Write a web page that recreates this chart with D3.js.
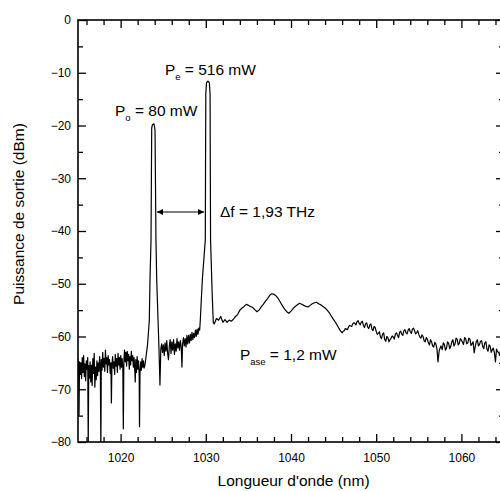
<!DOCTYPE html>
<html>
<head>
<meta charset="utf-8">
<script src="https://cdn.jsdelivr.net/npm/d3@7"></script>
<style>
  body { margin: 0; background: #fff; }
  text { font-family: Arial, "Liberation Sans", Helvetica, sans-serif; fill: #000; }
  .tick line { stroke: #000; stroke-width: 1.3px; }
</style>
</head>
<body>
<div id="chart"></div>
<script>
// spectrum: [wavelength (nm), output power (dBm)]
const spectrum = [
  [1015.00,-64.2],[1015.08,-66.5],[1015.12,-75],[1015.18,-64.8],[1015.26,-67.2],[1015.34,-65.0],[1015.42,-68.0],
  [1015.50,-64.0],[1015.58,-66.8],[1015.66,-63.6],[1015.74,-67.6],[1015.82,-65.2],[1015.90,-68.4],[1015.98,-64.6],
  [1016.06,-66.2],[1016.14,-64.0],[1016.20,-81],[1016.26,-65.5],[1016.34,-67.9],[1016.42,-64.8],[1016.50,-68.6],
  [1016.58,-65.4],[1016.66,-69.3],[1016.74,-64.2],[1016.82,-67.0],[1016.90,-63.2],[1016.98,-69.6],[1017.06,-65.8],
  [1017.14,-68.2],[1017.22,-64.6],[1017.30,-67.4],[1017.38,-65.0],[1017.46,-66.6],[1017.54,-63.8],[1017.62,-65.6],
  [1017.68,-81],[1017.74,-64.4],[1017.82,-66.4],[1017.90,-63.0],[1017.98,-65.8],[1018.06,-64.2],[1018.14,-66.6],
  [1018.22,-62.6],[1018.30,-65.2],[1018.38,-64.0],[1018.46,-66.8],[1018.54,-63.6],[1018.62,-65.4],[1018.70,-64.4],
  [1018.78,-67.0],[1018.86,-65.0],[1018.92,-72.6],[1018.98,-65.6],[1019.06,-63.8],[1019.14,-66.0],[1019.22,-64.8],
  [1019.30,-67.2],[1019.38,-63.4],[1019.46,-65.6],[1019.54,-64.2],[1019.62,-66.8],[1019.70,-63.2],[1019.78,-65.4],
  [1019.86,-64.0],[1019.94,-66.2],[1020.02,-63.6],[1020.10,-65.8],[1020.18,-64.2],[1020.26,-66.0],[1020.32,-77.5],
  [1020.38,-65.0],[1020.46,-62.6],[1020.54,-64.8],[1020.62,-63.0],[1020.70,-65.6],[1020.78,-62.8],[1020.86,-64.6],
  [1020.94,-63.4],[1021.02,-66.2],[1021.10,-63.8],[1021.18,-65.4],[1021.26,-62.8],[1021.34,-64.6],[1021.42,-63.6],
  [1021.50,-65.8],[1021.58,-64.0],[1021.66,-66.4],[1021.72,-68.6],[1021.78,-64.4],[1021.86,-66.8],[1021.94,-63.8],
  [1022.02,-66.2],[1022.10,-64.6],[1022.18,-67.0],[1022.22,-77.1],[1022.28,-66.8],[1022.36,-64.8],[1022.44,-66.4],
  [1022.52,-64.2],[1022.60,-65.8],[1022.68,-64.6],[1022.76,-66.0],[1022.86,-65.4],
  // first peak (Po)
  [1023.16,-61.6],[1023.37,-56.9],[1023.45,-49.3],[1023.57,-41.7],[1023.65,-20.5],[1023.74,-19.8],[1023.92,-19.7],
  [1024.04,-20.9],[1024.15,-41.7],[1024.24,-49.3],[1024.51,-62.6],[1024.62,-69.2],
  [1024.72,-62.4],[1024.82,-61.4],[1024.92,-63.0],[1025.02,-61.6],[1025.12,-63.6],[1025.22,-61.2],[1025.32,-62.8],
  [1025.42,-60.8],[1025.52,-63.2],[1025.62,-64.4],[1025.72,-61.8],[1025.82,-60.6],[1025.92,-63.2],[1026.02,-61.0],
  [1026.12,-62.6],[1026.22,-60.6],[1026.32,-63.4],[1026.42,-61.4],[1026.52,-62.8],[1026.62,-60.4],[1026.72,-62.2],
  [1026.82,-61.0],[1026.92,-62.6],[1027.02,-60.8],[1027.12,-62.0],[1027.20,-65.8],[1027.28,-61.4],[1027.38,-60.2],
  [1027.48,-61.8],[1027.58,-60.4],[1027.68,-62.0],[1027.78,-59.8],[1027.88,-61.4],[1027.98,-59.8],[1028.08,-61.2],
  [1028.18,-59.6],[1028.28,-60.8],[1028.38,-59.2],[1028.48,-60.6],[1028.58,-59.4],[1028.68,-60.2],[1028.78,-58.8],
  [1028.88,-60.0],[1028.98,-58.6],[1029.08,-59.6],[1029.18,-58.4],[1029.28,-58.8],
  // second peak (Pe)
  [1029.35,-57.0],[1029.59,-49.3],[1029.94,-41.7],[1030.00,-14],[1030.08,-11.9],[1030.25,-11.6],[1030.42,-11.9],
  [1030.50,-14],[1030.56,-41.7],[1030.75,-52],[1030.88,-57.4],[1031.00,-57.6],
  // ASE
  [1031.25,-56.6],[1031.5,-56.9],[1031.75,-56.2],[1032.0,-57.3],[1032.25,-56.8],[1032.5,-57.3],[1032.75,-56.9],
  [1033.0,-57.1],[1033.25,-56.7],[1033.5,-56.2],[1033.75,-55.8],[1034.0,-55.0],[1034.25,-54.6],[1034.5,-54.3],
  [1034.75,-53.9],[1035.0,-54.1],[1035.25,-54.3],[1035.5,-54.5],[1035.75,-54.9],[1036.0,-55.3],[1036.25,-55.0],
  [1036.5,-54.4],[1036.75,-53.9],[1037.0,-53.3],[1037.25,-52.8],[1037.5,-52.2],[1037.75,-51.9],[1038.0,-52.0],
  [1038.25,-52.3],[1038.5,-52.8],[1038.75,-53.5],[1039.0,-54.2],[1039.25,-54.8],[1039.5,-55.3],[1039.75,-55.6],
  [1040.0,-55.2],[1040.25,-54.7],[1040.5,-54.3],[1040.75,-54.0],[1041.0,-53.7],[1041.25,-53.9],[1041.5,-54.1],
  [1041.75,-54.3],[1042.0,-54.4],[1042.25,-54.1],[1042.5,-53.8],[1042.75,-53.6],[1043.0,-53.5],[1043.25,-53.8],
  [1043.5,-54.0],[1043.75,-54.3],[1044.0,-54.6],[1044.25,-55.0],[1044.5,-55.5],[1044.75,-56.2],[1045.0,-56.8],
  [1045.25,-57.4],[1045.5,-58.1],[1045.75,-58.8],[1046.0,-59.3],[1046.25,-58.9],[1046.5,-58.6],[1046.75,-58.2],
  [1047.0,-58.0],[1047.25,-57.6],[1047.5,-57.5],[1047.75,-57.2],[1048.0,-57.5],[1048.25,-57.3],[1048.5,-57.9],
  [1048.75,-57.6],[1049.0,-58.2],[1049.25,-57.8],[1049.5,-58.6],[1049.75,-58.1],[1050.0,-59.0],[1050.25,-59.4],
  [1050.5,-60.1],[1050.75,-59.5],[1051.0,-60.6],[1051.25,-60.0],[1051.5,-61.0],[1051.75,-60.3],[1052.0,-60.1],
  [1052.25,-59.5],[1052.5,-59.8],[1052.75,-59.2],[1053.0,-59.6],[1053.25,-58.9],[1053.5,-59.3],[1053.75,-58.8],
  [1054.0,-59.1],[1054.25,-58.6],[1054.5,-58.9],[1054.75,-59.3],[1055.0,-59.6],[1055.25,-60.3],[1055.5,-60.0],
  [1055.75,-61.0],[1056.0,-60.5],[1056.25,-61.6],[1056.5,-61.0],[1056.75,-62.0],[1057.0,-61.4],[1057.25,-64.8],
  [1057.4,-62.6],[1057.6,-61.8],[1057.75,-62.5],[1058.0,-61.5],[1058.25,-62.2],[1058.5,-61.3],[1058.75,-61.9],
  [1059.0,-60.6],[1059.25,-61.4],[1059.5,-60.5],[1059.75,-61.3],[1060.0,-60.7],[1060.25,-61.5],[1060.5,-60.4],
  [1060.75,-61.2],[1061.0,-60.5],[1061.25,-61.4],[1061.5,-63.1],[1061.75,-61.0],[1062.0,-61.8],[1062.25,-60.9],
  [1062.5,-61.9],[1062.75,-61.2],[1063.0,-62.4],[1063.25,-61.6],[1063.5,-63.0],[1063.75,-62.2],[1064.0,-64.8],
  [1064.25,-62.9],[1064.5,-63.6],[1064.75,-62.8],[1065.0,-63.8]
];

// extra points in the noisier long-wavelength part of the ASE
const aseDetail = [
  [1046.125,-59.0],[1046.375,-58.5],[1046.625,-58.7],[1046.875,-57.9],[1047.125,-58.1],[1047.375,-57.4],
  [1047.625,-57.8],[1047.875,-57.0],[1048.125,-57.8],[1048.375,-57.1],[1048.625,-58.3],[1048.875,-57.4],
  [1049.125,-58.5],[1049.375,-57.6],[1049.625,-58.9],[1049.875,-58.3],[1050.125,-59.6],[1050.375,-59.1],
  [1050.625,-60.4],[1050.875,-59.3],[1051.125,-60.9],[1051.375,-60.2],[1051.625,-60.6],[1051.875,-59.9],
  [1052.125,-60.5],[1052.375,-59.3],[1052.625,-60.2],[1052.875,-59.0],[1053.125,-59.8],[1053.375,-58.7],
  [1053.625,-59.5],[1053.875,-58.5],[1054.125,-59.4],[1054.375,-58.4],[1054.625,-59.5],[1054.875,-58.9],
  [1055.125,-60.1],[1055.375,-59.7],[1055.625,-60.8],[1055.875,-60.2],[1056.125,-61.2],[1056.375,-60.6],
  [1056.625,-61.8],[1056.875,-61.1],[1057.125,-62.3],[1057.875,-61.2],[1058.125,-62.6],[1058.375,-61.0],
  [1058.625,-62.3],[1058.875,-61.0],[1059.125,-61.8],[1059.375,-60.3],[1059.625,-61.6],[1059.875,-60.4],
  [1060.125,-61.1],[1060.375,-60.2],[1060.625,-61.4],[1060.875,-60.3],[1061.125,-61.7],[1061.375,-61.0],
  [1061.625,-61.9],[1061.875,-60.6],[1062.125,-61.5],[1062.375,-60.8],[1062.625,-62.3],[1062.875,-61.0],
  [1063.125,-62.8],[1063.375,-61.8],[1063.625,-62.5],[1063.875,-63.1],[1064.125,-62.4],[1064.375,-63.0],
  [1064.625,-62.3],[1064.875,-63.5]
];

const xMajorTicks = [1020, 1030, 1040, 1050, 1060];
const xMinorTicks = d3.range(1016, 1066, 2);
const yMajorTicks = [0, -10, -20, -30, -40, -50, -60, -70, -80];
const yMinorTicks = [-5, -15, -25, -35, -45, -55, -65, -75];

// labels: [main, subscript, rest, x nm, y dBm]
const labels = [
  ["P", "o", " = 80 mW", 1019.34, -18.2],
  ["P", "e", " = 516 mW", 1025.2, -10.4],
  ["\u0394f = 1,93 THz", "", "", 1031.67, -37.35],
  ["P", "ase", " = 1,2 mW", 1034.0, -64.45]
];
const deltaArrow = [1024.27, 1029.79, -36.4];

const W = 500, H = 491;
const margin = {top: 20, left: 78};
const width = 426, height = 422;

const svg = d3.select("#chart").append("svg")
  .attr("width", W).attr("height", H);

const g = svg.append("g").attr("transform", `translate(${margin.left},${margin.top})`);

const x = d3.scaleLinear().domain([1015, 1065]).range([0, width]);
const y = d3.scaleLinear().domain([-80, 0]).range([height, 0]);

svg.append("defs").append("clipPath").attr("id", "plot-clip")
  .append("rect").attr("width", width).attr("height", height);

const trace = spectrum.concat(aseDetail).sort((a, b) => a[0] - b[0]);

// trace
const line = d3.line().x(d => x(d[0])).y(d => y(d[1]));
g.append("path")
  .datum(trace)
  .attr("clip-path", "url(#plot-clip)")
  .attr("fill", "none")
  .attr("stroke", "#000")
  .attr("stroke-width", 1.2)
  .attr("stroke-linejoin", "round")
  .attr("d", line);

// axes, ticks pointing inward
const addAxis = (axis, transform) => {
  const a = g.append("g").attr("transform", transform).call(axis);
  a.select(".domain").remove();
  return a;
};
const xb = addAxis(d3.axisBottom(x).tickValues(xMajorTicks).tickSize(-8).tickPadding(11).tickFormat(d3.format("d")), `translate(0,${height})`);
addAxis(d3.axisBottom(x).tickValues(xMinorTicks.filter(v => v % 10)).tickSize(-5).tickFormat(""), `translate(0,${height})`);
addAxis(d3.axisTop(x).tickValues(xMajorTicks).tickSize(-8).tickFormat(""), "translate(0,0)");
addAxis(d3.axisTop(x).tickValues(xMinorTicks.filter(v => v % 10)).tickSize(-5).tickFormat(""), "translate(0,0)");
const yl = addAxis(d3.axisLeft(y).tickValues(yMajorTicks).tickSize(-8).tickPadding(7).tickFormat(d3.format("d")), "translate(0,0)");
addAxis(d3.axisLeft(y).tickValues(yMinorTicks).tickSize(-5).tickFormat(""), "translate(0,0)");
addAxis(d3.axisRight(y).tickValues(yMajorTicks).tickSize(-8).tickFormat(""), `translate(${width},0)`);
addAxis(d3.axisRight(y).tickValues(yMinorTicks).tickSize(-5).tickFormat(""), `translate(${width},0)`);

xb.selectAll("text").style("font-size", "12px");
yl.selectAll("text").style("font-size", "12px");
svg.selectAll("g").attr("font-family", null);

// frame
g.append("rect")
  .attr("width", width).attr("height", height)
  .attr("fill", "none").attr("stroke", "#000").attr("stroke-width", 1.6);

// axis titles
svg.append("text")
  .attr("x", margin.left + x(1040.3)).attr("y", 486)
  .attr("text-anchor", "middle").style("font-size", "15.5px")
  .text("Longueur d'onde (nm)");

svg.append("text")
  .attr("transform", `translate(24,${214}) rotate(-90)`)
  .attr("text-anchor", "middle").style("font-size", "15.5px")
  .text("Puissance de sortie (dBm)");

// annotations
labels.forEach(([main, sub, rest, lx, ly]) => {
  const t = g.append("text")
    .attr("x", x(lx)).attr("y", y(ly))
    .style("font-size", "15.5px");
  t.append("tspan").text(main);
  if (sub) {
    t.append("tspan").attr("dy", 5).style("font-size", "9.5px").text(sub);
    t.append("tspan").attr("dy", -5).text(rest);
  }
});

// delta-f arrow
const defs = svg.select("defs");
["start", "end"].forEach(k => {
  defs.append("marker")
    .attr("id", "arrow-" + k)
    .attr("viewBox", "0 0 10 10")
    .attr("refX", k === "end" ? 10 : 0).attr("refY", 5)
    .attr("markerWidth", 8).attr("markerHeight", 6)
    .attr("markerUnits", "userSpaceOnUse")
    .attr("orient", "auto")
    .append("path")
    .attr("d", k === "end" ? "M0,0 L10,5 L0,10 Z" : "M10,0 L0,5 L10,10 Z")
    .attr("fill", "#000");
});
g.append("line")
  .attr("x1", x(deltaArrow[0])).attr("x2", x(deltaArrow[1]))
  .attr("y1", y(deltaArrow[2])).attr("y2", y(deltaArrow[2]))
  .attr("stroke", "#000").attr("stroke-width", 1.2)
  .attr("marker-start", "url(#arrow-start)")
  .attr("marker-end", "url(#arrow-end)");
</script>
</body>
</html>
